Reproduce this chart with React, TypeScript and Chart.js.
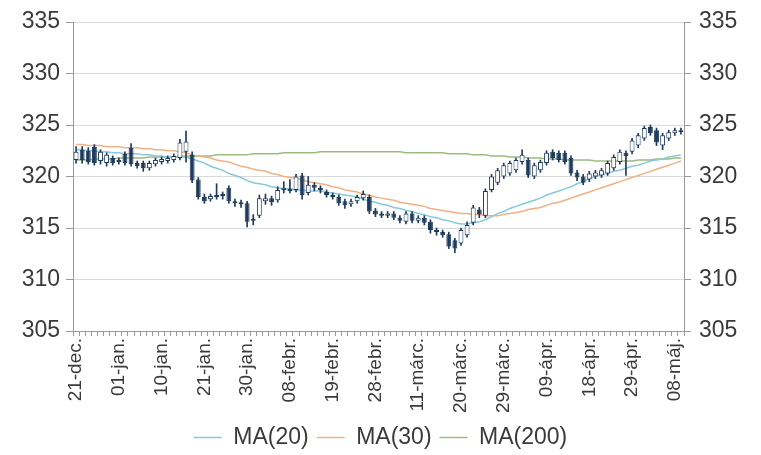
import React, { useEffect, useRef } from 'react';
import { Chart, registerables } from 'chart.js';

Chart.register(...registerables);

const categories = [
  '21-dec.', '24-dec.', '25-dec.', '26-dec.', '27-dec.', '28-dec.', '31-dec.',
  '01-jan.', '02-jan.', '03-jan.', '04-jan.', '07-jan.', '08-jan.', '09-jan.',
  '10-jan.', '11-jan.', '14-jan.', '15-jan.', '16-jan.', '17-jan.', '18-jan.',
  '21-jan.', '22-jan.', '23-jan.', '24-jan.', '25-jan.', '28-jan.', '29-jan.',
  '30-jan.', '31-jan.', '01-febr.', '04-febr.', '05-febr.', '06-febr.', '07-febr.',
  '08-febr.', '11-febr.', '12-febr.', '13-febr.', '14-febr.', '15-febr.', '18-febr.',
  '19-febr.', '20-febr.', '21-febr.', '22-febr.', '25-febr.', '26-febr.', '27-febr.',
  '28-febr.', '01-márc.', '04-márc.', '05-márc.', '06-márc.', '07-márc.', '08-márc.',
  '11-márc.', '12-márc.', '13-márc.', '14-márc.', '15-márc.', '18-márc.', '19-márc.',
  '20-márc.', '21-márc.', '22-márc.', '25-márc.', '26-márc.', '27-márc.', '28-márc.',
  '29-márc.', '01-ápr.', '02-ápr.', '03-ápr.', '04-ápr.', '05-ápr.', '08-ápr.',
  '09-ápr.', '10-ápr.', '11-ápr.', '12-ápr.', '15-ápr.', '16-ápr.', '17-ápr.',
  '18-ápr.', '19-ápr.', '22-ápr.', '23-ápr.', '24-ápr.', '25-ápr.', '26-ápr.',
  '29-ápr.', '30-ápr.', '01-máj.', '02-máj.', '03-máj.', '06-máj.', '07-máj.',
  '08-máj.', '09-máj.'
];

const tickLabels = [
  '21-dec.', '01-jan.', '10-jan.', '21-jan.', '30-jan.', '08-febr.', '19-febr.',
  '28-febr.', '11-márc.', '20-márc.', '29-márc.', '09-ápr.', '18-ápr.', '29-ápr.', '08-máj.'
];

const opens = [
  321.6, 322.6, 322.5, 322.9, 321.5, 321.3, 321.8, 321.4, 322.2, 322.8,
  321.3, 321.3, 320.8, 321.2, 321.4, 321.5, 321.6, 321.8, 322.4, 322.1,
  319.7, 318.0, 317.8, 318.0, 318.3, 318.9, 317.6, 317.5, 317.4, 315.7,
  316.2, 317.6, 317.9, 317.7, 318.7, 318.8, 318.7, 320.1, 318.4, 319.2,
  318.9, 318.5, 318.2, 318.0, 317.6, 317.3, 317.6, 317.9, 318.0, 316.7,
  316.4, 316.2, 316.4, 316.0, 315.6, 316.4, 315.7, 316.0, 315.6, 314.8,
  314.6, 314.4, 313.8, 313.5, 314.3, 315.5, 316.8, 316.2, 318.7, 319.4,
  320.0, 320.3, 320.6, 321.4, 321.6, 320.0, 320.6, 321.3, 322.4, 322.3,
  322.3, 321.8, 320.4, 320.0, 319.7, 320.0, 320.1, 320.3, 320.8, 321.4,
  322.3, 322.4, 323.0, 323.7, 324.8, 324.5, 323.0, 323.7, 324.2, 324.3
];

const highs = [
  322.9, 322.9, 322.8, 323.1, 322.6, 322.3, 322.0, 321.8, 322.4, 323.2,
  321.5, 321.5, 321.5, 321.8, 321.9, 322.0, 322.2, 323.6, 324.4, 322.4,
  319.9, 318.3, 318.3, 319.3, 318.5, 319.1, 317.8, 317.7, 317.6, 316.3,
  318.2, 318.3, 318.1, 319.0, 319.5, 319.7, 320.2, 320.3, 320.0, 319.4,
  319.1, 318.7, 318.4, 318.2, 317.8, 317.8, 318.2, 318.6, 318.2, 316.9,
  316.6, 316.6, 316.6, 316.2, 316.6, 316.6, 316.2, 316.2, 315.8, 315.0,
  314.8, 314.6, 314.0, 315.0, 315.6, 317.2, 317.0, 318.8, 320.2, 320.8,
  321.3, 321.5, 321.8, 322.6, 321.8, 321.3, 321.6, 322.5, 322.6, 322.5,
  322.5, 322.0, 320.6, 320.2, 320.5, 320.6, 320.8, 321.5, 322.1, 322.6,
  322.5, 323.7, 324.2, 324.9, 325.0, 324.7, 324.2, 324.5, 324.7, 324.7
];

const lows = [
  321.3, 321.3, 321.2, 321.1, 321.2, 321.0, 321.1, 321.2, 321.1, 321.0,
  320.8, 320.5, 320.6, 321.0, 321.2, 321.3, 321.4, 321.6, 321.4, 319.4,
  317.8, 317.4, 317.6, 317.8, 317.8, 317.4, 317.1, 317.0, 315.1, 315.3,
  316.0, 317.3, 317.2, 317.5, 318.4, 318.4, 318.5, 317.8, 318.2, 318.6,
  318.4, 318.0, 317.8, 317.2, 316.9, 317.1, 317.4, 317.7, 316.4, 316.1,
  316.0, 316.0, 315.8, 315.5, 315.4, 315.5, 315.5, 315.3, 314.5, 314.3,
  314.1, 313.0, 312.6, 313.3, 314.1, 315.3, 316.0, 316.0, 318.5, 319.2,
  319.8, 320.1, 320.4, 321.2, 319.9, 319.8, 320.4, 321.1, 321.6, 321.4,
  321.2, 320.1, 319.6, 319.2, 319.5, 319.8, 319.9, 320.1, 320.6, 321.2,
  320.1, 322.2, 322.8, 323.5, 324.0, 323.0, 322.6, 323.5, 324.0, 324.1
];

const closes = [
  322.4, 321.6, 321.4, 321.3, 322.4, 322.1, 321.3, 321.6, 321.3, 321.2,
  321.0, 320.8, 321.3, 321.6, 321.7, 321.8, 322.0, 323.3, 323.4, 319.6,
  318.0, 317.6, 318.1, 318.2, 318.1, 317.6, 317.4, 317.3, 315.6, 315.9,
  317.9, 317.9, 317.5, 318.7, 318.9, 318.6, 320.0, 318.2, 319.2, 318.9,
  318.7, 318.2, 318.0, 317.4, 317.2, 317.6, 318.0, 318.3, 316.6, 316.3,
  316.2, 316.4, 316.0, 315.7, 316.4, 315.7, 316.0, 315.5, 314.8, 314.6,
  314.3, 313.2, 313.0, 314.8, 315.3, 317.0, 316.3, 318.6, 320.0, 320.6,
  321.1, 321.3, 321.6, 322.1, 320.1, 321.1, 321.4, 322.3, 321.8, 321.6,
  321.4, 320.3, 319.9, 319.4, 320.3, 320.4, 320.6, 321.3, 321.9, 322.4,
  322.0, 323.5, 324.0, 324.7, 324.2, 323.3, 324.0, 324.3, 324.5, 324.5
];

const ma20 = [
  322.6, 322.6, 322.5, 322.5, 322.4, 322.4, 322.3, 322.3, 322.2, 322.2,
  322.2, 322.1, 322.1, 322.0, 322.0, 321.9, 321.9, 321.9, 321.9, 321.7,
  321.5, 321.3, 321.0, 320.8, 320.6, 320.3, 320.1, 319.9, 319.6, 319.4,
  319.3, 319.2, 319.0, 318.9, 318.8, 318.8, 318.7, 318.7, 318.6, 318.6,
  318.6, 318.5, 318.4, 318.3, 318.2, 318.1, 318.0, 317.8, 317.6, 317.5,
  317.3, 317.2, 317.0, 316.9, 316.7, 316.6, 316.4, 316.3, 316.1, 316.0,
  315.8, 315.7, 315.5, 315.4, 315.4, 315.5, 315.6, 315.8, 316.1, 316.4,
  316.6, 316.9, 317.1, 317.3, 317.5, 317.7, 317.9, 318.2, 318.4, 318.6,
  318.8, 319.0, 319.3, 319.5, 319.8, 320.0, 320.2, 320.3, 320.5, 320.6,
  320.8, 321.0, 321.1, 321.3, 321.5, 321.6, 321.7, 321.9, 322.0, 322.1
];

const ma30 = [
  323.1, 323.1, 323.0, 323.0, 323.0, 322.9, 322.9, 322.9, 322.8, 322.8,
  322.8, 322.7, 322.7, 322.6, 322.6, 322.5, 322.5, 322.4, 322.3, 322.1,
  322.0, 321.9, 321.8, 321.6, 321.5, 321.4, 321.2, 321.0, 320.9, 320.7,
  320.6, 320.5, 320.3, 320.2, 320.0, 319.9, 319.8, 319.7, 319.5, 319.4,
  319.3, 319.2, 319.0, 318.9, 318.7, 318.6, 318.5, 318.3, 318.2, 318.0,
  317.9, 317.8, 317.7, 317.5, 317.4, 317.3, 317.2, 317.1, 316.9, 316.8,
  316.7, 316.6, 316.5, 316.4, 316.4, 316.3, 316.3, 316.2, 316.2, 316.2,
  316.3, 316.4, 316.5, 316.6, 316.8, 316.9, 317.0, 317.2, 317.4, 317.5,
  317.7, 317.9, 318.1, 318.3, 318.5, 318.7, 318.9, 319.1, 319.3, 319.5,
  319.7, 319.9, 320.1, 320.3, 320.5, 320.7, 320.9, 321.1, 321.3, 321.5
];

const ma200 = [
  321.6, 321.6, 321.6, 321.7, 321.7, 321.7, 321.7, 321.8, 321.8, 321.8,
  321.8, 321.8, 321.9, 321.9, 321.9, 321.9, 321.9, 322.0, 322.0, 322.0,
  322.0, 322.0, 322.0, 322.1, 322.1, 322.1, 322.1, 322.1, 322.1, 322.2,
  322.2, 322.2, 322.2, 322.2, 322.3, 322.3, 322.3, 322.3, 322.3, 322.3,
  322.4, 322.4, 322.4, 322.4, 322.4, 322.4, 322.4, 322.4, 322.4, 322.4,
  322.4, 322.4, 322.4, 322.4, 322.3, 322.3, 322.3, 322.3, 322.3, 322.3,
  322.3, 322.2, 322.2, 322.2, 322.2, 322.1, 322.1, 322.1, 322.0, 322.0,
  322.0, 321.9, 321.9, 321.9, 321.8, 321.8, 321.8, 321.7, 321.7, 321.7,
  321.6, 321.6, 321.6, 321.6, 321.6, 321.5, 321.5, 321.5, 321.5, 321.5,
  321.5, 321.5, 321.6, 321.6, 321.6, 321.7, 321.7, 321.7, 321.8, 321.8
];

const FONT = '"Liberation Sans", Arial, sans-serif';
const TEXT = '#3a3a3a';
const AXIS = '#9a9a9a';
const GRID = '#d9d9d9';
const DARK = '#1f3b5c';
const C20 = '#86c8dc';
const C30 = '#efb185';
const C200 = '#9dbb80';

export default function App() {
  const ref = useRef<HTMLCanvasElement | null>(null);

  useEffect(() => {
    document.body.style.margin = '0';
    const canvas = ref.current;
    if (!canvas) return;
    const isUp = closes.map((c, i) => c >= opens[i]);
    const chart = new Chart(canvas, {
      type: 'bar',
      data: {
        labels: categories,
        datasets: [
          {
            type: 'line', label: 'MA(20)', data: ma20, borderColor: C20, backgroundColor: C20,
            borderWidth: 1.5, pointRadius: 0, tension: 0, order: 5,
          } as any,
          {
            type: 'line', label: 'MA(30)', data: ma30, borderColor: C30, backgroundColor: C30,
            borderWidth: 1.5, pointRadius: 0, tension: 0, order: 6,
          } as any,
          {
            type: 'line', label: 'MA(200)', data: ma200, borderColor: C200, backgroundColor: C200,
            borderWidth: 1.5, pointRadius: 0, tension: 0, order: 7,
          } as any,
          {
            type: 'bar', label: 'wick', data: lows.map((l, i) => [l, highs[i]]),
            backgroundColor: DARK, barThickness: 1, grouped: false, order: 4,
          } as any,
          {
            type: 'bar', label: 'body', data: opens.map((o, i) => [o, closes[i]]),
            backgroundColor: isUp.map((u) => (u ? '#ffffff' : DARK)), borderColor: DARK,
            borderWidth: 1, borderSkipped: false, barPercentage: 0.8, categoryPercentage: 1,
            grouped: false, order: 3,
          } as any,
        ],
      },
      options: {
        responsive: false,
        animation: false,
        devicePixelRatio: 1,
        layout: { padding: { top: 22, left: 0, right: 0, bottom: 0 } },
        plugins: {
          tooltip: { enabled: false },
          legend: {
            position: 'bottom',
            maxHeight: 37,
            labels: {
              filter: (item: any) => item.text.startsWith('MA'),
              boxWidth: 28,
              boxHeight: 0,
              padding: 8,
              color: TEXT,
              font: { size: 23, family: FONT },
            },
          },
        },
        scales: {
          x: {
            offset: true,
            grid: { display: true, drawOnChartArea: false, drawTicks: true, tickLength: 5, color: AXIS, offset: true },
            border: { display: true, color: AXIS },
            ticks: {
              autoSkip: false,
              maxRotation: 90,
              minRotation: 90,
              padding: 2,
              color: TEXT,
              font: { size: 19, family: FONT },
              callback: (_v: any, i: number) => (tickLabels.includes(categories[i]) ? categories[i] : ''),
            },
            afterFit: (s: any) => { s.height = 87; },
          },
          y: {
            position: 'left',
            min: 305,
            max: 335,
            ticks: { stepSize: 5, padding: 6, color: TEXT, font: { size: 23, family: FONT } },
            grid: { color: GRID, tickLength: 7, tickColor: AXIS },
            border: { display: true, color: AXIS },
            afterFit: (s: any) => { s.width = 73; },
          },
          y2: {
            position: 'right',
            min: 305,
            max: 335,
            ticks: { stepSize: 5, padding: 8, color: TEXT, font: { size: 23, family: FONT } },
            grid: { drawOnChartArea: false, tickLength: 7, tickColor: AXIS },
            border: { display: true, color: AXIS },
            afterFit: (s: any) => { s.width = 77; },
          },
        },
      } as any,
    });
    return () => chart.destroy();
  }, []);

  return (
    <div style={{ width: 761, height: 455 }}>
      <canvas ref={ref} width={761} height={455} />
    </div>
  );
}
